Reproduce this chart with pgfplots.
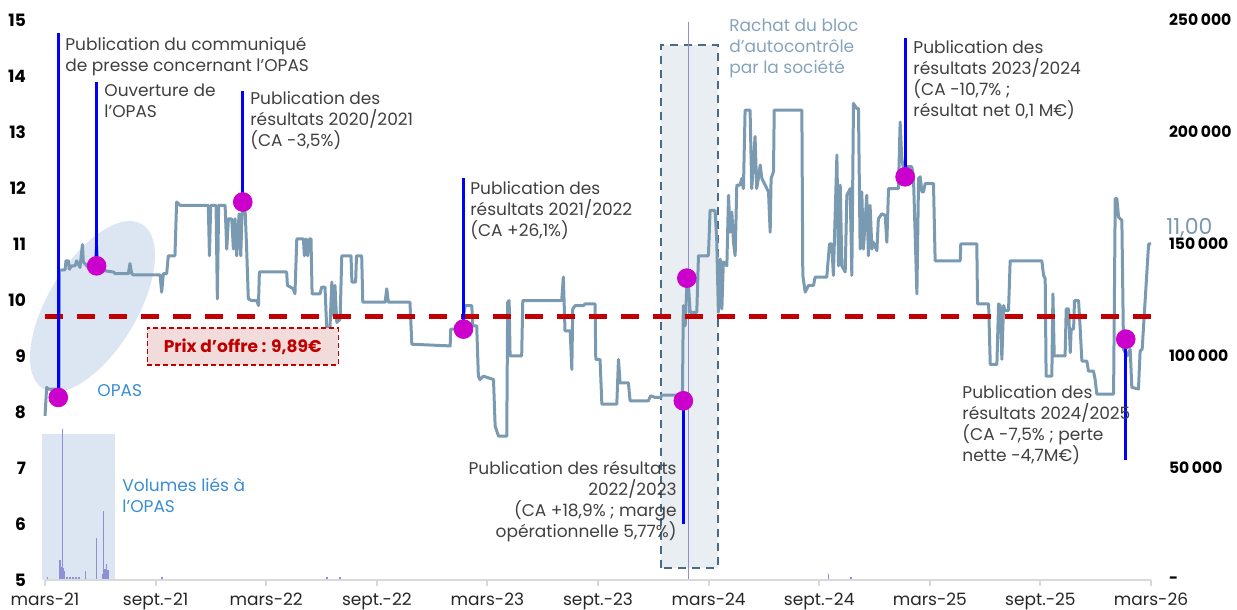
\documentclass[border=0pt]{standalone}
\usepackage{fontspec}
\setmainfont{Poppins}
\usepackage{pgfplots}
\pgfplotsset{compat=1.18}
\definecolor{priceline}{HTML}{7A9AB2}
\definecolor{annblue}{HTML}{0000FF}
\definecolor{dotmag}{HTML}{CC00CC}
\definecolor{offred}{HTML}{C00000}
\definecolor{offfill}{HTML}{F2DCDB}
\definecolor{opasfill}{HTML}{DCE6F2}
\definecolor{rachatfill}{HTML}{E9EEF3}
\definecolor{rachatdraw}{HTML}{4B6A86}
\definecolor{opastext}{HTML}{3A8DD0}
\definecolor{rachattext}{HTML}{86A3BC}
\definecolor{volbar}{HTML}{8F8FD6}
\definecolor{axisgray}{HTML}{D9D9D9}
\definecolor{txtgray}{HTML}{404040}

\begin{document}
\begin{tikzpicture}[font=\fontsize{8.5pt}{10.5pt}\selectfont]
% ---------- background shapes (1 unit = 1 px of the reference, y upward)
\begin{scope}[x=0.5pt,y=0.5pt]
\fill[opasfill] (41.7,30) rectangle (115.3,176);
\fill[opasfill, rotate around={59:(92.5,303.5)}] (92.5,303.5) ellipse [x radius=48pt, y radius=22.3pt];
\filldraw[fill=rachatfill, draw=rachatdraw, line width=0.9pt, dash pattern=on 4pt off 3pt] (661,42) rectangle (717.7,565);
\end{scope}

% ---------- volume axis (right)
\begin{axis}[
  at={(22.5pt,15pt)}, anchor=south west, scale only axis,
  width=553pt, height=280pt,
  xmin=0, xmax=60, ymin=0, ymax=250000,
  axis x line=none,
  axis y line*=right,
  y axis line style={draw=none},
  scaled y ticks=false,
  ytick={0,50000,100000,150000,200000,250000},
  yticklabels={-,50\,000,100\,000,150\,000,200\,000,250\,000},
  ytick style={draw=none},
  yticklabel style={font=\fontsize{7.8pt}{9pt}\selectfont\bfseries, xshift=5.5pt, text=black},
  clip=false,
]
\addplot[ycomb, volbar, line width=0.6pt, mark=none] coordinates {
(0.12,1500) (0.81,9000) (0.87,6000) (0.94,67200) (0.99,5200) (1.05,4000)
(1.19,1500) (1.36,1500) (1.52,1500) (1.68,1500) (1.84,1500) (2.19,4000)
(2.81,18700) (3.13,2500) (3.18,30600) (3.26,5000) (3.34,7000) (3.42,4500)
(6.35,1500) (15.3,1200) (16.0,1500) (34.92,249000) (42.49,2700) (43.73,1500)
};
\end{axis}

% ---------- price axis (left)
\begin{axis}[
  at={(22.5pt,15pt)}, anchor=south west, scale only axis,
  width=553pt, height=280pt,
  xmin=0, xmax=60, ymin=5, ymax=15,
  axis x line*=bottom, axis y line*=left,
  x axis line style={draw=axisgray, line width=1pt},
  y axis line style={draw=none},
  xtick={0,6,...,60},
  xticklabels={mars-21,sept.-21,mars-22,sept.-22,mars-23,sept.-23,mars-24,sept.-24,mars-25,sept.-25,mars-26},
  xtick style={draw=axisgray, line width=1pt},
  tick align=outside, major tick length=3pt,
  ytick={5,6,7,8,9,10,11,12,13,14,15},
  yticklabels={5,6,7,8,9,10,11,12,13,14,15},
  ytick style={draw=none},
  yticklabel style={font=\fontsize{8.5pt}{10pt}\selectfont\bfseries, text=black, xshift=-3pt},
  xticklabel style={text=black!85, font=\fontsize{8.5pt}{10pt}\selectfont},
  clip=false,
]
\addplot[priceline, line width=1.5pt, line join=round] coordinates {
(0.00,7.93) (0.09,8.44) (0.18,8.41) (0.63,8.41) (0.72,8.26) (0.76,8.26) (0.78,10.53) (1.09,10.54) (1.14,10.70) (1.27,10.70) (1.32,10.55) (1.45,10.61) (1.63,10.61) (1.72,10.70) (1.90,10.58) (2.03,10.99) (2.08,10.68) (2.35,10.58) (2.71,10.65) (2.80,10.97) (2.89,10.56) (3.07,10.53) (3.71,10.50) (3.80,10.47) (4.52,10.47) (4.61,10.65) (4.70,10.47) (4.79,10.45) (6.24,10.45) (6.33,10.14) (6.42,10.47) (6.60,10.47) (6.69,10.79) (7.05,10.79) (7.14,11.75) (7.33,11.69) (8.86,11.69) (8.92,10.79) (8.99,11.69) (9.28,11.69) (9.35,10.02) (9.42,11.69) (9.77,11.69) (9.86,10.91) (9.95,11.45) (10.13,11.45) (10.22,10.91) (10.31,11.45) (10.40,10.79) (10.53,11.54) (10.62,10.79) (10.71,11.75) (10.85,11.66) (10.94,10.91) (11.03,10.02) (11.21,9.99) (11.49,9.99) (11.58,9.90) (11.63,10.50) (13.11,10.50) (13.15,10.26) (13.47,10.20) (13.56,10.11) (13.66,11.09) (14.02,11.09) (14.07,10.79) (14.16,11.09) (14.25,10.79) (14.34,11.09) (14.43,11.09) (14.49,10.11) (14.92,10.11) (15.01,10.23) (15.19,10.23) (15.28,9.51) (15.46,9.51) (15.56,10.32) (15.64,9.72) (15.73,10.26) (15.83,9.60) (16.01,9.66) (16.10,10.79) (16.60,10.79) (16.65,10.32) (16.85,10.32) (16.90,10.79) (17.18,10.79) (17.24,9.96) (18.45,9.96) (18.54,10.20) (18.63,9.96) (19.80,9.96) (19.90,9.21) (21.98,9.18) (22.01,9.48) (22.61,9.48) (22.79,9.90) (23.15,9.90) (23.21,9.54) (23.42,9.54) (23.51,8.64) (23.60,8.58) (23.78,8.64) (24.33,8.58) (24.42,7.75) (24.60,7.57) (25.05,7.57) (25.10,9.96) (25.18,9.99) (25.23,9.00) (25.86,9.00) (25.92,9.99) (28.03,9.99) (28.12,10.41) (28.21,9.45) (28.49,9.45) (28.58,8.76) (28.63,9.84) (28.76,9.90) (29.21,9.90) (29.30,9.93) (29.84,9.93) (29.88,8.94) (30.11,8.94) (30.21,8.14) (31.02,8.14) (31.11,8.94) (31.20,8.52) (31.65,8.52) (31.74,8.20) (32.73,8.20) (32.86,8.29) (33.10,8.26) (33.40,8.26) (33.46,8.30) (34.58,8.30) (34.63,9.90) (34.73,9.54) (34.82,10.26) (34.91,10.26) (35.00,9.78) (35.36,9.78) (35.45,10.79) (35.99,10.79) (36.08,11.60) (36.35,11.60) (36.44,11.09) (36.53,9.78) (36.63,10.73) (36.72,9.84) (36.80,10.68) (36.99,10.61) (37.08,11.87) (37.17,11.21) (37.26,11.57) (37.35,11.03) (37.44,10.79) (37.53,12.05) (37.71,12.05) (37.80,12.17) (37.89,11.99) (37.98,13.39) (38.25,13.39) (38.34,11.99) (38.43,12.41) (38.52,12.92) (38.61,11.99) (38.70,12.17) (38.80,12.41) (38.89,12.17) (39.07,12.05) (39.25,11.93) (39.34,11.21) (39.39,12.17) (39.52,12.29) (39.56,13.39) (41.06,13.39) (41.11,10.44) (41.24,10.14) (41.42,10.26) (41.69,10.26) (41.78,10.41) (42.41,10.41) (42.56,11.00) (42.68,11.00) (42.77,10.44) (42.96,12.59) (43.05,10.61) (43.14,12.05) (43.23,10.61) (43.41,10.50) (43.50,11.87) (43.68,11.99) (43.77,10.44) (43.86,13.51) (44.04,13.42) (44.13,13.42) (44.22,10.91) (44.31,11.93) (44.40,10.91) (44.58,11.87) (44.67,10.79) (44.76,11.69) (44.86,10.91) (44.94,11.03) (45.13,10.88) (45.21,11.45) (45.40,11.54) (45.58,11.51) (45.67,11.03) (45.76,11.99) (46.30,11.99) (46.39,13.18) (46.48,12.53) (46.57,12.35) (46.75,12.38) (47.02,12.38) (47.11,12.23) (47.30,10.11) (47.39,12.17) (47.48,12.20) (47.57,11.93) (47.66,11.93) (47.75,12.08) (48.20,12.08) (48.29,10.70) (49.65,10.70) (49.68,11.00) (50.55,11.00) (50.59,9.93) (51.19,9.93) (51.28,8.85) (51.64,8.85) (51.73,9.93) (51.82,9.90) (51.91,8.94) (52.00,9.90) (52.09,9.81) (52.27,9.81) (52.36,10.70) (54.08,10.70) (54.17,10.44) (54.26,10.38) (54.31,8.64) (54.62,8.64) (54.68,10.11) (54.75,9.00) (55.34,9.00) (55.40,9.84) (55.53,9.84) (55.62,9.06) (55.67,9.48) (55.80,9.48) (55.85,9.99) (56.07,9.99) (56.16,9.48) (56.25,8.91) (56.52,8.91) (56.61,8.73) (56.88,8.73) (56.97,8.58) (57.06,8.32) (57.97,8.32) (58.06,11.81) (58.15,11.81) (58.24,11.48) (58.42,11.42) (58.51,9.12) (58.69,9.00) (58.87,9.12) (58.96,8.44) (59.32,8.41) (59.41,9.09) (59.52,9.12) (59.87,11.00) (60.00,11.00)
};
% offer price line
\addplot[offred, line width=2.5pt, dash pattern=on 9pt off 7pt] coordinates {(0,9.70) (60,9.70)};
% event stems
\addplot[annblue, line width=1.5pt] coordinates {(0.72,8.26) (0.72,14.77)};
\addplot[annblue, line width=1.5pt] coordinates {(2.80,10.61) (2.80,13.89)};
\addplot[annblue, line width=1.5pt] coordinates {(10.73,11.75) (10.73,13.73)};
\addplot[annblue, line width=1.5pt] coordinates {(22.70,9.48) (22.70,12.17)};
\addplot[annblue, line width=1.5pt] coordinates {(34.63,8.20) (34.63,6.00)};
\addplot[annblue, line width=1.5pt] coordinates {(46.66,12.20) (46.66,14.68)};
\addplot[annblue, line width=1.5pt] coordinates {(58.63,9.30) (58.63,7.15)};
% event dots
\addplot[only marks, mark=*, mark size=4.7pt, color=dotmag] coordinates {
(0.72,8.26) (2.80,10.61) (10.73,11.75) (22.70,9.48) (34.63,8.20) (34.82,10.39) (46.66,12.20) (58.63,9.30)
};
\end{axis}

% ---------- annotations (1 unit = 1 px of the reference, y upward)
\begin{scope}[x=0.5pt,y=0.5pt]
\begin{scope}[every node/.style={inner sep=0pt, align=left, text=txtgray, anchor=north west}]
\node at (65,573) {Publication du communiqué\\de presse concernant l'OPAS};
\node at (104,526) {Ouverture de\\l'OPAS};
\node at (250,519) {Publication des\\résultats 2020/2021\\(CA -3,5\%)};
\node at (470,429) {Publication des\\résultats 2021/2022\\(CA +26,1\%)};
\node[anchor=north east, align=right] at (677,149) {Publication des résultats\\2022/2023\\(CA +18,9\% ; marge\\opérationnelle 5,77\%)};
\node at (913,570) {Publication des\\résultats 2023/2024\\(CA -10,7\% ;\\résultat net 0,1 M€)};
\node at (962,225) {Publication des\\résultats 2024/2025\\(CA -7,5\% ; perte\\nette -4,7M€)};
\node[text=rachattext] at (729,591) {Rachat du bloc\\d'autocontrôle\\par la société};
\node[text=opastext, anchor=west] at (97,219) {OPAS};
\node[text=opastext] at (122,132) {Volumes liés à\\l'OPAS};
\end{scope}
\node[anchor=west, inner sep=0pt, text=priceline, font=\fontsize{11pt}{13pt}\selectfont] at (1166,382) {11,00};
\node[draw=offred, fill=offfill, line width=0.7pt, dash pattern=on 2.5pt off 1.5pt,
      minimum width=95.5pt, minimum height=18.5pt, inner sep=0pt,
      text=offred, font=\fontsize{8.5pt}{10pt}\selectfont\bfseries] at (242.7,263.5) {Prix d’offre : 9,89€};
\end{scope}

\pgfresetboundingbox
\useasboundingbox (0,0) rectangle (618.5pt,305pt);
\end{tikzpicture}
\end{document}
